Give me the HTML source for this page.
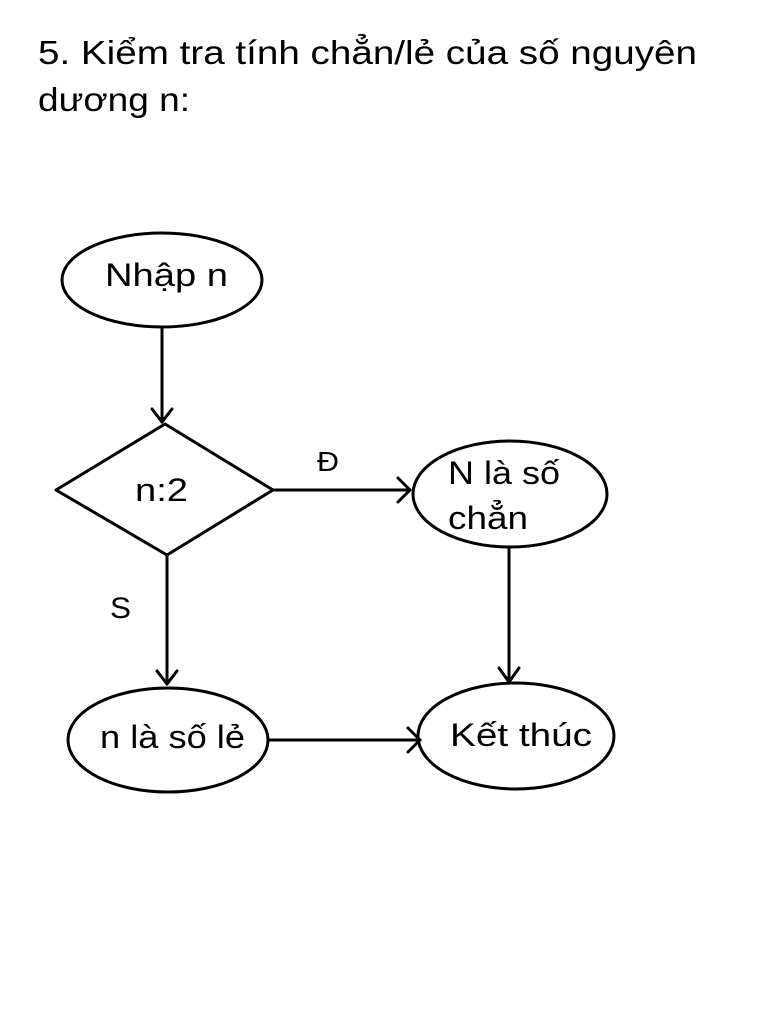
<!DOCTYPE html>
<html><head><meta charset="utf-8"><style>
html,body{margin:0;padding:0;background:#fff;}
svg{display:block;}
text{font-family:"Liberation Sans",sans-serif;fill:#000;}
</style></head><body>
<svg width="768" height="1024" viewBox="0 0 768 1024" xmlns="http://www.w3.org/2000/svg">
<text x="38" y="64" font-size="33" textLength="659" lengthAdjust="spacingAndGlyphs">5. Kiểm tra tính chẳn/lẻ của số nguyên</text>
<text x="38" y="111" font-size="33" textLength="152" lengthAdjust="spacingAndGlyphs">dương n:</text>
<g fill="none" stroke="#000" stroke-width="3" stroke-linecap="round" stroke-linejoin="round">
<ellipse cx="162" cy="280" rx="100" ry="47"/>
<line x1="162" y1="328" x2="162" y2="422"/>
<polyline points="152,409 162,422 172,409"/>
<polygon points="56,490 165,424 273,490 167,555"/>
<line x1="273" y1="490" x2="410" y2="490"/>
<polyline points="398,478 410,490 398,502"/>
<ellipse cx="510" cy="494" rx="97" ry="53"/>
<line x1="509" y1="548" x2="509" y2="682"/>
<polyline points="499,668 509,682 519,668"/>
<line x1="167" y1="555" x2="167" y2="684"/>
<polyline points="157,671 167,684 177,671"/>
<ellipse cx="168" cy="740" rx="100" ry="52"/>
<line x1="268" y1="740" x2="420" y2="740"/>
<polyline points="408,728 420,740 408,752"/>
<ellipse cx="516" cy="736" rx="98" ry="53"/>
</g>
<text x="105" y="286" font-size="32" textLength="123" lengthAdjust="spacingAndGlyphs">Nhập n</text>
<text x="135" y="501" font-size="32" textLength="53" lengthAdjust="spacingAndGlyphs">n:2</text>
<text x="317" y="471" font-size="28" textLength="22" lengthAdjust="spacingAndGlyphs">Đ</text>
<text x="110" y="618" font-size="30" textLength="21" lengthAdjust="spacingAndGlyphs">S</text>
<text x="448" y="484" font-size="32" textLength="112" lengthAdjust="spacingAndGlyphs">N là số</text>
<text x="448" y="529" font-size="32" textLength="80" lengthAdjust="spacingAndGlyphs">chẳn</text>
<text x="100" y="748" font-size="32" textLength="145" lengthAdjust="spacingAndGlyphs">n là số lẻ</text>
<text x="450" y="746" font-size="32" textLength="142" lengthAdjust="spacingAndGlyphs">Kết thúc</text>
</svg>
</body></html>
